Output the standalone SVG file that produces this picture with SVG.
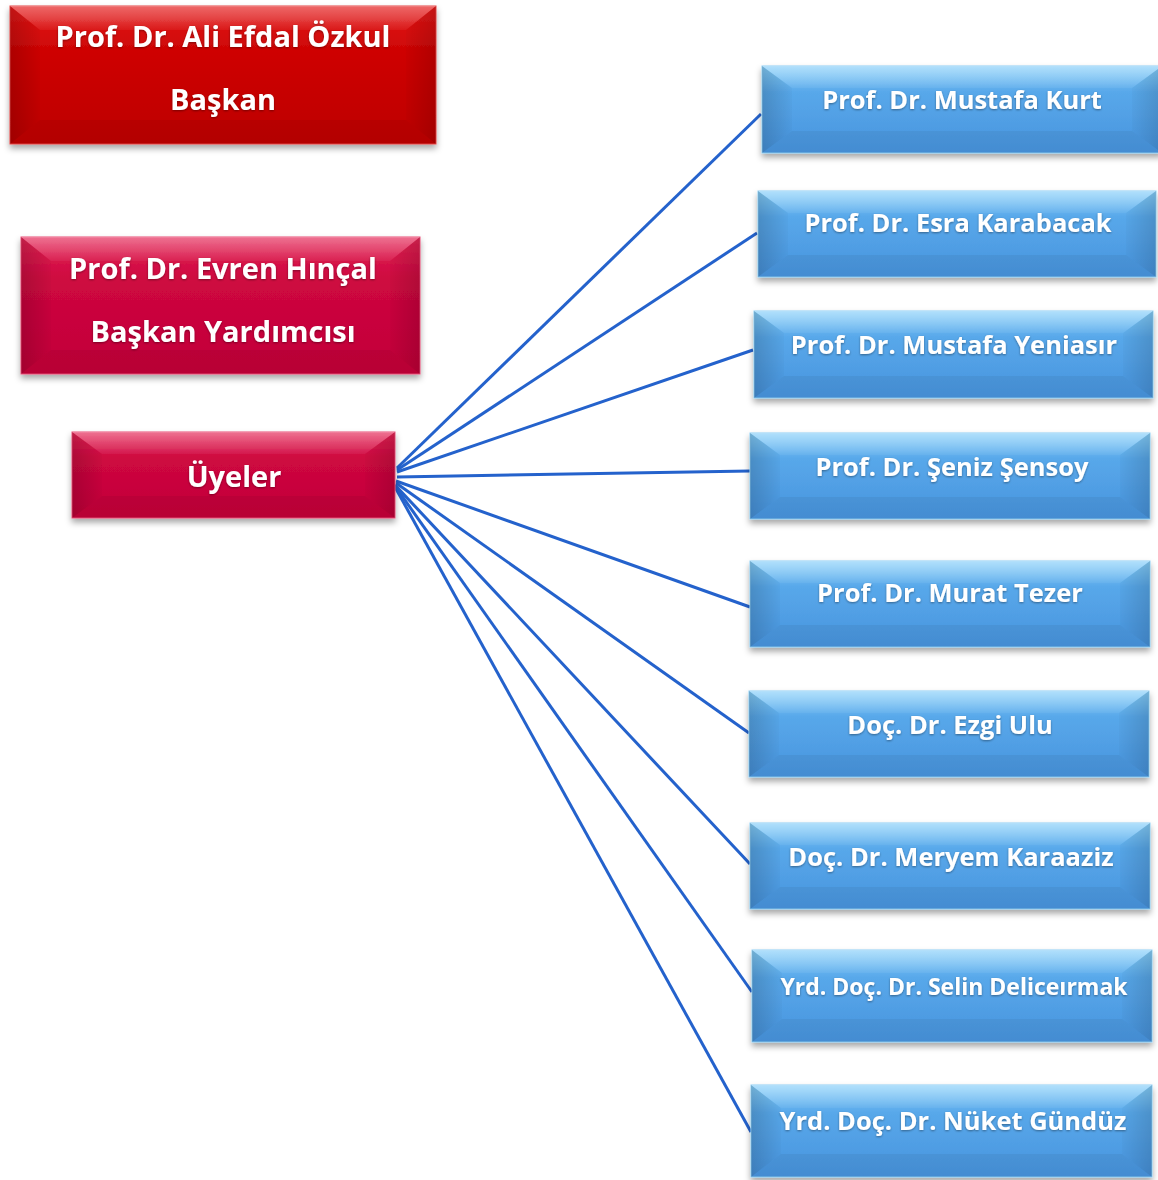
<svg xmlns="http://www.w3.org/2000/svg" width="1158" height="1180" viewBox="0 0 1158 1180">
<style>
.t{font-family:"Open Sans","Liberation Sans",sans-serif;font-weight:bold;fill:#ffffff;text-anchor:middle}
.c{stroke:#2462cc;stroke-width:3;fill:none}
.hl{fill:url(#gHl)}
.dl{fill:url(#gDl)}
.dr{fill:url(#gDr)}
.db{fill:#000000;opacity:0.05}
</style>
<defs>
<linearGradient id="gBlue" x1="0" y1="0" x2="0" y2="1">
<stop offset="0" stop-color="#86cffa"/><stop offset="0.3" stop-color="#58a8ea"/><stop offset="1" stop-color="#4894de"/>
</linearGradient>
<linearGradient id="gRed" x1="0" y1="0" x2="0" y2="1">
<stop offset="0" stop-color="#e41818"/><stop offset="0.3" stop-color="#cf0606"/><stop offset="1" stop-color="#bd0000"/>
</linearGradient>
<linearGradient id="gCrim" x1="0" y1="0" x2="0" y2="1">
<stop offset="0" stop-color="#e42454"/><stop offset="0.3" stop-color="#ce0840"/><stop offset="1" stop-color="#c20038"/>
</linearGradient>
<linearGradient id="gHl" x1="0" y1="0" x2="0" y2="1">
<stop offset="0" stop-color="#fff" stop-opacity="0.35"/><stop offset="1" stop-color="#fff" stop-opacity="0.05"/>
</linearGradient>
<linearGradient id="gDl" x1="0" y1="0" x2="1" y2="0">
<stop offset="0" stop-color="#000" stop-opacity="0.16"/><stop offset="1" stop-color="#000" stop-opacity="0.02"/>
</linearGradient>
<linearGradient id="gDr" x1="1" y1="0" x2="0" y2="0">
<stop offset="0" stop-color="#000" stop-opacity="0.14"/><stop offset="1" stop-color="#000" stop-opacity="0.02"/>
</linearGradient>
<filter id="sh" x="-5%" y="-10%" width="110%" height="130%">
<feDropShadow dx="0" dy="4" stdDeviation="3" flood-color="#000" flood-opacity="0.35"/>
</filter>
<filter id="ts" x="-5%" y="-20%" width="110%" height="140%">
<feDropShadow dx="0" dy="1" stdDeviation="0.8" flood-color="#000" flood-opacity="0.4"/>
</filter>
</defs>

<g id="connectors">
<line class="c" x1="397" y1="468" x2="761" y2="114"/>
<line class="c" x1="397" y1="470" x2="757" y2="233"/>
<line class="c" x1="397" y1="472" x2="753" y2="350"/>
<line class="c" x1="397" y1="477" x2="750" y2="471"/>
<line class="c" x1="396" y1="481" x2="750" y2="607"/>
<line class="c" x1="396" y1="483" x2="749" y2="733"/>
<line class="c" x1="395" y1="485" x2="750" y2="864"/>
<line class="c" x1="395" y1="486" x2="752" y2="992"/>
<line class="c" x1="395" y1="487" x2="751" y2="1132"/>
</g>

<g id="n-baskan" transform="translate(10,6)">
<g filter="url(#sh)"><rect width="426" height="138" fill="url(#gRed)" stroke="#e84848" stroke-width="1"/></g>
<polygon class="hl" points="0,0 426,0 396,24 30,24"/>
<polygon class="dl" points="0,0 30,24 30,114 0,138"/>
<polygon class="dr" points="426,0 396,24 396,114 426,138"/>
<polygon class="db" points="0,138 30,114 396,114 426,138"/>
<text class="t" x="213" y="41" font-size="29" filter="url(#ts)">Prof. Dr. Ali Efdal Özkul</text>
<text class="t" x="213" y="104" font-size="29" filter="url(#ts)">Başkan</text>
</g>

<g id="n-yardimci" transform="translate(21,237)">
<g filter="url(#sh)"><rect width="399" height="137" fill="url(#gCrim)" stroke="#ec5078" stroke-width="1"/></g>
<polygon class="hl" points="0,0 399,0 369,24 30,24"/>
<polygon class="dl" points="0,0 30,24 30,113 0,137"/>
<polygon class="dr" points="399,0 369,24 369,113 399,137"/>
<polygon class="db" points="0,137 30,113 369,113 399,137"/>
<text class="t" x="202" y="42" font-size="29" filter="url(#ts)">Prof. Dr. Evren Hınçal</text>
<text class="t" x="202" y="105" font-size="29" filter="url(#ts)">Başkan Yardımcısı</text>
</g>

<g id="n-uyeler" transform="translate(72,432)">
<g filter="url(#sh)"><rect width="323" height="86" fill="url(#gCrim)" stroke="#ec5078" stroke-width="1"/></g>
<polygon class="hl" points="0,0 323,0 293,22 30,22"/>
<polygon class="dl" points="0,0 30,22 30,64 0,86"/>
<polygon class="dr" points="323,0 293,22 293,64 323,86"/>
<polygon class="db" points="0,86 30,64 293,64 323,86"/>
<text class="t" x="162" y="55" font-size="29" filter="url(#ts)">Üyeler</text>
</g>

<g id="n-kurt" transform="translate(762,66)">
<g filter="url(#sh)"><rect width="400" height="87" fill="url(#gBlue)" stroke="#8fd0f5" stroke-width="1"/></g>
<polygon class="hl" points="0,0 400,0 370,22 30,22"/>
<polygon class="dl" points="0,0 30,22 30,65 0,87"/>
<polygon class="dr" points="400,0 370,22 370,65 400,87"/>
<polygon class="db" points="0,87 30,65 370,65 400,87"/>
<text class="t" x="200" y="43" font-size="25.5" filter="url(#ts)">Prof. Dr. Mustafa Kurt</text>
</g>

<g id="n-karabacak" transform="translate(758,191)">
<g filter="url(#sh)"><rect width="398" height="86" fill="url(#gBlue)" stroke="#8fd0f5" stroke-width="1"/></g>
<polygon class="hl" points="0,0 398,0 368,22 30,22"/>
<polygon class="dl" points="0,0 30,22 30,64 0,86"/>
<polygon class="dr" points="398,0 368,22 368,64 398,86"/>
<polygon class="db" points="0,86 30,64 368,64 398,86"/>
<text class="t" x="200" y="41" font-size="25.5" filter="url(#ts)">Prof. Dr. Esra Karabacak</text>
</g>

<g id="n-yeniasir" transform="translate(754,311)">
<g filter="url(#sh)"><rect width="399" height="87" fill="url(#gBlue)" stroke="#8fd0f5" stroke-width="1"/></g>
<polygon class="hl" points="0,0 399,0 369,22 30,22"/>
<polygon class="dl" points="0,0 30,22 30,65 0,87"/>
<polygon class="dr" points="399,0 369,22 369,65 399,87"/>
<polygon class="db" points="0,87 30,65 369,65 399,87"/>
<text class="t" x="200" y="43" font-size="25.5" filter="url(#ts)">Prof. Dr. Mustafa Yeniasır</text>
</g>

<g id="n-sensoy" transform="translate(750,433)">
<g filter="url(#sh)"><rect width="400" height="86" fill="url(#gBlue)" stroke="#8fd0f5" stroke-width="1"/></g>
<polygon class="hl" points="0,0 400,0 370,22 30,22"/>
<polygon class="dl" points="0,0 30,22 30,64 0,86"/>
<polygon class="dr" points="400,0 370,22 370,64 400,86"/>
<polygon class="db" points="0,86 30,64 370,64 400,86"/>
<text class="t" x="202" y="43" font-size="25.5" filter="url(#ts)">Prof. Dr. Şeniz Şensoy</text>
</g>

<g id="n-tezer" transform="translate(750,561)">
<g filter="url(#sh)"><rect width="400" height="86" fill="url(#gBlue)" stroke="#8fd0f5" stroke-width="1"/></g>
<polygon class="hl" points="0,0 400,0 370,22 30,22"/>
<polygon class="dl" points="0,0 30,22 30,64 0,86"/>
<polygon class="dr" points="400,0 370,22 370,64 400,86"/>
<polygon class="db" points="0,86 30,64 370,64 400,86"/>
<text class="t" x="200" y="41" font-size="25.5" filter="url(#ts)">Prof. Dr. Murat Tezer</text>
</g>

<g id="n-ulu" transform="translate(749,691)">
<g filter="url(#sh)"><rect width="400" height="86" fill="url(#gBlue)" stroke="#8fd0f5" stroke-width="1"/></g>
<polygon class="hl" points="0,0 400,0 370,22 30,22"/>
<polygon class="dl" points="0,0 30,22 30,64 0,86"/>
<polygon class="dr" points="400,0 370,22 370,64 400,86"/>
<polygon class="db" points="0,86 30,64 370,64 400,86"/>
<text class="t" x="201" y="43" font-size="25.5" filter="url(#ts)">Doç. Dr. Ezgi Ulu</text>
</g>

<g id="n-karaaziz" transform="translate(750,823)">
<g filter="url(#sh)"><rect width="400" height="86" fill="url(#gBlue)" stroke="#8fd0f5" stroke-width="1"/></g>
<polygon class="hl" points="0,0 400,0 370,22 30,22"/>
<polygon class="dl" points="0,0 30,22 30,64 0,86"/>
<polygon class="dr" points="400,0 370,22 370,64 400,86"/>
<polygon class="db" points="0,86 30,64 370,64 400,86"/>
<text class="t" x="201" y="43" font-size="25.5" filter="url(#ts)">Doç. Dr. Meryem Karaaziz</text>
</g>

<g id="n-deliceirmak" transform="translate(752,950)">
<g filter="url(#sh)"><rect width="400" height="92" fill="url(#gBlue)" stroke="#8fd0f5" stroke-width="1"/></g>
<polygon class="hl" points="0,0 400,0 370,23 30,23"/>
<polygon class="dl" points="0,0 30,23 30,69 0,92"/>
<polygon class="dr" points="400,0 370,23 370,69 400,92"/>
<polygon class="db" points="0,92 30,69 370,69 400,92"/>
<text class="t" x="202" y="45" font-size="23" filter="url(#ts)">Yrd. Doç. Dr. Selin Deliceırmak</text>
</g>

<g id="n-gunduz" transform="translate(751,1085)">
<g filter="url(#sh)"><rect width="401" height="92" fill="url(#gBlue)" stroke="#8fd0f5" stroke-width="1"/></g>
<polygon class="hl" points="0,0 401,0 371,23 30,23"/>
<polygon class="dl" points="0,0 30,23 30,69 0,92"/>
<polygon class="dr" points="401,0 371,23 371,69 401,92"/>
<polygon class="db" points="0,92 30,69 371,69 401,92"/>
<text class="t" x="202" y="45" font-size="25.5" filter="url(#ts)">Yrd. Doç. Dr. Nüket Gündüz</text>
</g>
</svg>
